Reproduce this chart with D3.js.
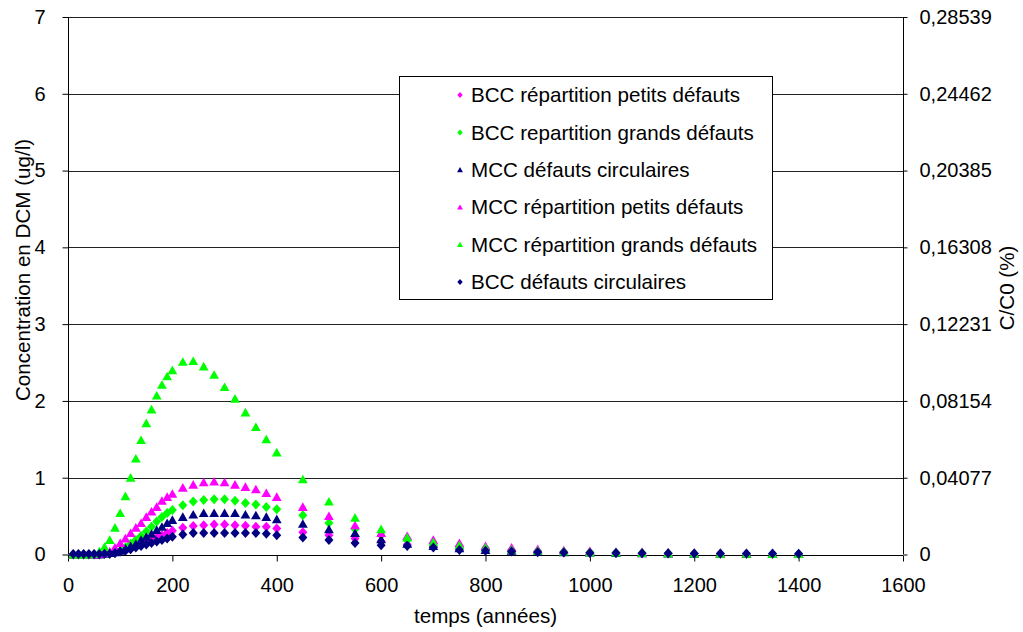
<!DOCTYPE html>
<html>
<head>
<meta charset="utf-8">
<script src="https://cdn.jsdelivr.net/npm/d3@7"></script>
<style>
 body{margin:0;background:#fff;}
 text{font-family:"Liberation Sans",Arial,sans-serif;font-size:20px;fill:#000;}
 .big{font-size:20.6px;}
</style>
</head>
<body>
<script>
// temps (années)
var years=[10,20,30,40,50,60,70,80,90,100,110,120,130,140,150,160,170,180,190,200,
 220,240,260,280,300,320,340,360,380,400,
 450,500,550,600,650,700,750,800,850,900,950,1000,1050,1100,1150,1200,1250,1300,1350,1400];

var bccPetits=[0,0,0,0,0,0,0.01,0.01,0.02,0.04,0.06,0.08,0.11,0.13,0.16,0.19,0.22,0.25,0.28,0.31,
 0.35,0.37,0.38,0.39,0.39,0.38,0.375,0.36,0.36,0.34,
 0.29,0.25,0.21,0.17,0.13,0.10,0.08,0.06,0.05,0.04,0.03,0.025,0.02,0.017,0.014,0.012,0.01,0.008,0.007,0.006];
var bccGrands=[0,0,0,0,0,0,0.01,0.01,0.02,0.05,0.09,0.14,0.19,0.24,0.30,0.36,0.43,0.49,0.54,0.58,
 0.64,0.69,0.71,0.72,0.72,0.70,0.67,0.65,0.62,0.59,
 0.51,0.41,0.33,0.25,0.19,0.14,0.10,0.08,0.06,0.045,0.035,0.028,0.022,0.018,0.015,0.012,0.01,0.008,0.007,0.006];
var mccCirc=[0,0,0,0,0,0,0.01,0.02,0.03,0.05,0.08,0.11,0.14,0.19,0.23,0.27,0.32,0.36,0.41,0.45,
 0.49,0.52,0.54,0.54,0.54,0.54,0.52,0.51,0.49,0.46,
 0.40,0.33,0.28,0.20,0.14,0.11,0.08,0.06,0.05,0.04,0.03,0.025,0.02,0.016,0.013,0.011,0.009,0.008,0.007,0.006];
var mccPetits=[0,0,0,0,0,0.01,0.02,0.04,0.09,0.15,0.21,0.28,0.35,0.41,0.49,0.56,0.62,0.70,0.75,0.79,
 0.87,0.91,0.94,0.95,0.94,0.91,0.88,0.85,0.80,0.75,
 0.62,0.50,0.38,0.28,0.24,0.19,0.15,0.11,0.09,0.07,0.055,0.045,0.035,0.03,0.025,0.02,0.017,0.014,0.012,0.01];
var mccGrands=[0,0,0,0,0.01,0.04,0.10,0.19,0.35,0.54,0.76,1.00,1.25,1.49,1.71,1.89,2.07,2.21,2.32,2.40,
 2.51,2.52,2.45,2.34,2.18,2.03,1.85,1.66,1.50,1.33,
 0.98,0.69,0.48,0.33,0.22,0.16,0.12,0.09,0.065,0.05,0.04,0.03,0.025,0.02,0.016,0.013,0.011,0.009,0.008,0.007];
var bccCirc=[0.005,0.005,0.005,0.005,0.005,0.005,0.01,0.01,0.02,0.04,0.05,0.07,0.09,0.11,0.13,0.15,0.17,0.19,0.21,0.23,
 0.26,0.28,0.28,0.28,0.28,0.28,0.28,0.28,0.27,0.25,
 0.22,0.19,0.15,0.12,0.11,0.09,0.06,0.05,0.04,0.03,0.025,0.02,0.018,0.016,0.015,0.014,0.013,0.012,0.012,0.011];

var seriesNames=["BCC répartition petits défauts","BCC repartition grands défauts","MCC défauts circulaires",
 "MCC répartition petits défauts","MCC répartition grands défauts","BCC défauts circulaires"];
var seriesColors=["#ff00ff","#00ff00","#000080","#ff00ff","#00ff00","#000080"];
var seriesShapes=["diamond","diamond","triangle","triangle","triangle","diamond"];
var seriesValues=[bccPetits,bccGrands,mccCirc,mccPetits,mccGrands,bccCirc];

var xTicks=[0,200,400,600,800,1000,1200,1400,1600];
var yTicks=[0,1,2,3,4,5,6,7];
var yRightTicks=[0,0.04077,0.08154,0.12231,0.16308,0.20385,0.24462,0.28539];

(function()
{
 "use strict";
 var W=1023,H=632,left=68,right=903,top=17,bottom=554.5;
 var svg=d3.select("body").append("svg").attr("width",W).attr("height",H);

 var x=d3.scaleLinear().domain([0,1600]).range([left,right]);
 var y=d3.scaleLinear().domain([0,7]).range([bottom,top]);
 var y2=d3.scaleLinear().domain([0,0.28539]).range([bottom,top]);

 function shapePath(shape,s)
 {
  return shape==="diamond"
   ?"M0,"+(-5*s)+"L"+(4.5*s)+",0L0,"+(5*s)+"L"+(-4.5*s)+",0Z"
   :"M0,"+(-4.6*s)+"L"+(4.9*s)+","+(4*s)+"L"+(-4.9*s)+","+(4*s)+"Z";
 }

 // gridlines
 svg.append("g").selectAll("line").data(yTicks.filter(function(d){return d>0;})).join("line")
  .attr("x1",left).attr("x2",right).attr("y1",function(d){return Math.round(y(d))+0.5;}).attr("y2",function(d){return Math.round(y(d))+0.5;})
  .attr("stroke","#222").attr("stroke-width",1);

 var ax=svg.append("g").attr("transform","translate(0,"+(Math.round(bottom)+0.5)+")")
  .call(d3.axisBottom(x).tickValues(xTicks).tickSize(6).tickPadding(16).tickFormat(d3.format("d")));
 var ayl=svg.append("g").attr("transform","translate("+(left+0.5)+",0)")
  .call(d3.axisLeft(y).tickValues(yTicks).tickSize(6).tickPadding(17).tickFormat(d3.format("d")));
 var ayr=svg.append("g").attr("transform","translate("+(right+0.5)+",0)")
  .call(d3.axisRight(y2).tickValues(yRightTicks).tickSize(4).tickPadding(12)
  .tickFormat(function(d){return d===0?"0":d.toFixed(5).replace(".",",");}));
 [ax,ayl,ayr].forEach(function(g)
 {
  g.select(".domain").attr("stroke","#000").attr("stroke-width",1);
  g.selectAll(".tick line").attr("stroke","#000");
  g.selectAll("text").attr("fill","#000");
  g.attr("font-size",null).attr("font-family",null);
 });
 ax.select(".domain").attr("d","M"+left+",0H"+right);
 ayl.select(".domain").attr("d","M0,"+top+"V"+bottom);
 ayr.select(".domain").attr("d","M0,"+top+"V"+bottom);
 ax.selectAll(".tick text").attr("dy","0.71em");

 // points
 seriesValues.forEach(function(vals,i)
 {
  svg.append("g").selectAll("path").data(vals).join("path")
   .attr("d",shapePath(seriesShapes[i],1))
   .attr("transform",function(d,j){return "translate("+x(years[j])+","+y(d)+")";})
   .attr("fill",seriesColors[i]);
 });

 // titles
 svg.append("text").attr("class","big").attr("x",x(800)).attr("y",623).attr("text-anchor","middle").text("temps (années)");
 svg.append("text").attr("class","big").attr("transform","translate(30,270) rotate(-90)").attr("text-anchor","middle").text("Concentration en DCM (ug/l)");
 svg.append("text").attr("class","big").attr("transform","translate(1014,288) rotate(-90)").attr("text-anchor","middle").text("C/C0 (%)");

 // legend
 var lg=svg.append("g");
 lg.append("rect").attr("x",399.5).attr("y",76.5).attr("width",373).attr("height",223)
  .attr("fill","#fff").attr("stroke","#000").attr("stroke-width",1);
 seriesNames.forEach(function(n,i)
 {
  var ry=95+i*37.4;
  lg.append("path").attr("d",shapePath(seriesShapes[i],0.6)).attr("transform","translate(460,"+ry+")").attr("fill",seriesColors[i]);
  lg.append("text").attr("class","big").attr("x",471).attr("y",ry).attr("dy","0.35em").text(n);
 });
})();
</script>
</body>
</html>
